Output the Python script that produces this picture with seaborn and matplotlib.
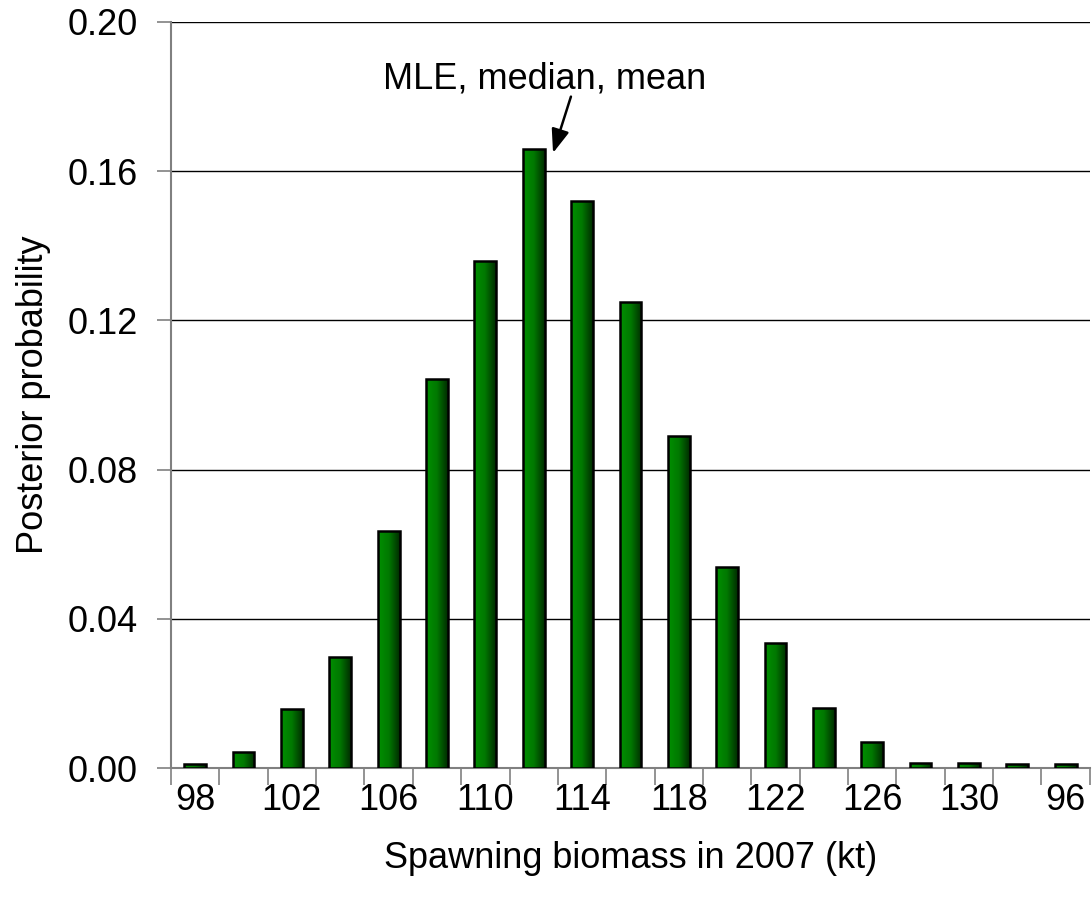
import numpy as np
import pandas as pd
import matplotlib
matplotlib.use('Agg')
import matplotlib.pyplot as plt
from matplotlib.colors import LinearSegmentedColormap
import seaborn as sns

# biomassa-klasser och posterior sannolikhet
biomass = ['98', '100', '102', '104', '106', '108', '110', '112', '114', '116',
           '118', '120', '122', '124', '126', '128', '130', '132', '96']
prob = [0.001, 0.0042, 0.0158, 0.0298, 0.0635, 0.1043, 0.136, 0.166, 0.152, 0.125,
        0.089, 0.054, 0.0335, 0.016, 0.007, 0.0015, 0.0015, 0.001, 0.001]
yticks = [0.00, 0.04, 0.08, 0.12, 0.16, 0.20]

df = pd.DataFrame({'biomass': biomass, 'prob': prob})

sns.set_style('white')
plt.rcParams['font.family'] = ['Liberation Sans', 'DejaVu Sans']
plt.rcParams['text.color'] = 'black'
plt.rcParams['axes.labelcolor'] = 'black'
plt.rcParams['xtick.labelcolor'] = 'black'
plt.rcParams['ytick.labelcolor'] = 'black'

fs = 26
fig = plt.figure(figsize=(10.92, 9.09), dpi=100)
ax = fig.add_axes([0.1566, 0.155, 0.8414, 0.8208])

sns.barplot(data=df, x='biomass', y='prob', order=biomass, color='green',
            width=0.45, edgecolor='black', linewidth=1.8, ax=ax, zorder=3)

# gradient i staplarna
cmap = LinearSegmentedColormap.from_list('g', ['#009000', '#007800', '#002c00'])
grad = np.linspace(0, 1, 64).reshape(1, -1)
for p in ax.patches:
    x0, y0 = p.get_x(), p.get_y()
    w, h = p.get_width(), p.get_height()
    im = ax.imshow(grad, cmap=cmap, aspect='auto', extent=[x0, x0 + w, y0, y0 + h],
                   zorder=3.5, interpolation='bilinear')
    im.set_clip_path(p)
    p.set_facecolor('none')
    p.set_zorder(4)

n = len(biomass)
ax.set_xlim(-0.5, n - 0.5)
ax.set_ylim(0, 0.2)
ax.set_yticks(yticks)
ax.set_yticklabels([f'{v:.2f}' for v in yticks], fontsize=fs)
ax.yaxis.grid(True, color='black', linewidth=1.0, zorder=0)
ax.set_axisbelow(True)

# streck mellan klasserna, etiketter på varannan
ax.set_xticks(np.arange(-0.5, n, 1.0))
ax.set_xticklabels([])
ax.set_xticks(np.arange(0, n, 2), minor=True)
ax.set_xticklabels([biomass[i] for i in range(0, n, 2)], minor=True, fontsize=fs)
ax.tick_params(axis='x', which='major', length=12, width=1.2, color='#808080', direction='out', bottom=True)
ax.tick_params(axis='x', which='minor', length=0, pad=11)
ax.tick_params(axis='y', length=10, width=1.2, color='#808080', direction='out', left=True, pad=14)

for s in ['top', 'right']:
    ax.spines[s].set_visible(False)
for s in ['left', 'bottom']:
    ax.spines[s].set_color('#808080')
    ax.spines[s].set_linewidth(1.5)

ax.set_xlabel('Spawning biomass in 2007 (kt)', fontsize=fs, labelpad=16)
ax.set_ylabel('Posterior probability', fontsize=fs, labelpad=12)

ax.text(7.23, 0.1848, 'MLE, median, mean', ha='center', va='center', fontsize=fs)
ax.annotate('', xy=(7.40, 0.1649), xytext=(7.77, 0.180),
            arrowprops=dict(arrowstyle='-|>,head_width=0.3,head_length=0.8', color='black',
                            lw=1.8, mutation_scale=18, shrinkA=0, shrinkB=0))

fig.savefig('out.png', dpi=100)
